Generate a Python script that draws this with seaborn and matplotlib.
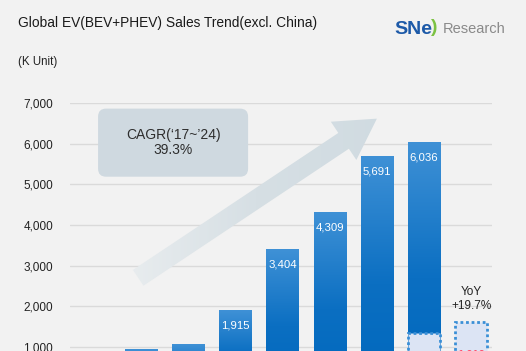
import numpy as np
import pandas as pd
import matplotlib
matplotlib.use("Agg")
import matplotlib.pyplot as plt
import matplotlib.patches as mpatches
from matplotlib.transforms import IdentityTransform
from matplotlib.colors import LinearSegmentedColormap
import seaborn as sns

# ---- data ----
categories = ["2017", "2018", "2019", "2020", "2021", "2022", "2023", "2024", "2025 1Q"]
annual_cats = ["2017", "2018", "2019", "2020", "2021", "2022", "2023", "2024"]
annual_vals = [593, 943, 1070, 1915, 3404, 4309, 5691, 6036]
labeled_cats = ["2020", "2021", "2022", "2023", "2024"]   # labels visible in the crop
q1_cats = ["2024", "2025 1Q"]
q1_vals = [1350, 1616]
yticks = [0, 1000, 2000, 3000, 4000, 5000, 6000, 7000]
title = "Global EV(BEV+PHEV) Sales Trend(excl. China)"
unit_label = "(K Unit)"
cagr_text = "CAGR(\u201817~\u201924)\n39.3%"
yoy_text = "YoY\n+19.7%"

sns.set_theme(style="white")
plt.rcParams["font.family"] = ["Liberation Sans", "DejaVu Sans"]

BG = "#f2f2f2"
W, H = 526, 351
fig = plt.figure(figsize=(W / 100, H / 100), dpi=100, facecolor=BG)
ax = fig.add_axes([70 / W, 1 - 387.6 / H, 422 / W, (387.6 - 103) / H])
ax.set_facecolor(BG)

df_a = pd.DataFrame({"cat": annual_cats, "val": annual_vals})
df_q = pd.DataFrame({"cat": q1_cats, "val": q1_vals})

sns.barplot(data=df_a, x="cat", y="val", order=categories, color="#1a78c8",
            width=0.68, ax=ax, zorder=2, saturation=1, edgecolor="none")
n_main = len(ax.patches)
main_patches = list(ax.patches)

sns.barplot(data=df_q, x="cat", y="val", order=categories, color="#dce4f4",
            width=0.68, ax=ax, zorder=4, saturation=1,
            edgecolor="#3a8fd6", linewidth=2.0, linestyle=(0, (1, 1)))
for p in ax.patches[n_main:]:
    p.set_facecolor("#dce4f4")
    p.set_edgecolor("#3a8fd6")

# gradient fill for main bars
cmap = LinearSegmentedColormap.from_list(
    "bar", [(0.0, "#3f91d6"), (0.55, "#0b6fc2"), (1.0, "#0068bd")])
grad = np.linspace(0, 1, 256).reshape(-1, 1)
for p in main_patches:
    x0, y0 = p.get_x(), p.get_y()
    w, h = p.get_width(), p.get_height()
    im = ax.imshow(grad, cmap=cmap, extent=[x0, x0 + w, y0, y0 + h],
                   aspect="auto", origin="upper", zorder=3, interpolation="bilinear")
    im.set_clip_path(p)

ax.set_xlim(-0.505, 8.44)
ax.set_ylim(0, 7000)

# value labels
for c, v in zip(annual_cats, annual_vals):
    if c not in labeled_cats:
        continue
    i = categories.index(c)
    ax.annotate(f"{v:,}", (i, v), xytext=(0, -11.2), textcoords="offset points",
                ha="center", va="center", color="white", fontsize=8.2, zorder=6)

i8 = categories.index("2025 1Q")
ax.annotate(f"{q1_vals[1]:,}", (i8, q1_vals[1]), xytext=(0, -23.5), textcoords="offset points",
            ha="center", va="center", color="#ff4f6e", fontsize=8, fontweight="bold", zorder=6)
ax.annotate(yoy_text, (i8, q1_vals[1]), xytext=(0, 16.5), textcoords="offset points",
            ha="center", va="center", color="#222222", fontsize=8.5, linespacing=1.15, zorder=6)

# grid / axes
ax.set_yticks(yticks)
ax.set_yticklabels([f"{t:,}" for t in yticks], fontsize=8.5, color="#222222")
ax.yaxis.grid(True, color="#dadada", linewidth=1.0, zorder=0)
ax.set_axisbelow(True)
ax.tick_params(axis="y", length=0, pad=12.2)
ax.set_xticks([])
ax.set_xlabel("")
ax.set_ylabel("")
for s in ax.spines.values():
    s.set_visible(False)

# trend arrow (display coords from data anchors), fading toward the tail
fig.canvas.draw()
tail_d, tip_d = (0.94, 2700), (6.0, 6615)
tail = ax.transData.transform(tail_d)
tip = ax.transData.transform(tip_d)
arrow = mpatches.FancyArrow(tail[0], tail[1], tip[0] - tail[0], tip[1] - tail[1],
                            width=19, head_width=46, head_length=40,
                            length_includes_head=True, transform=IdentityTransform(),
                            facecolor="none", edgecolor="none", linewidth=0, zorder=1.5)
ax.add_artist(arrow)
acmap = LinearSegmentedColormap.from_list("arr", ["#e9edef", "#d6dfe4", "#d0dbe1"])
agrad = np.linspace(0, 1, 256).reshape(1, -1)
aim = ax.imshow(agrad, cmap=acmap, extent=[tail_d[0] - 0.3, tip_d[0] + 0.2, 2000, 7000],
                aspect="auto", origin="lower", zorder=1.5, interpolation="bilinear")
aim.set_clip_path(arrow)

# CAGR box
b0 = ax.transData.transform((0.09, 5187))
b1 = ax.transData.transform((3.27, 6862))
box = mpatches.FancyBboxPatch((b0[0] + 8, b0[1] + 8), b1[0] - b0[0] - 16, b1[1] - b0[1] - 16,
                              boxstyle="round,pad=8", transform=IdentityTransform(),
                              facecolor="#cfd9e0", edgecolor="none", zorder=5)
ax.add_artist(box)
ax.text(1.68, 6030, cagr_text, ha="center", va="center", fontsize=10,
        color="#2e2e2e", linespacing=1.05, zorder=6)

ax.set_xlim(-0.505, 8.44)
ax.set_ylim(0, 7000)

# titles
fig.text(18 / W, 1 - 23 / H, title, ha="left", va="center", fontsize=9.9, color="#1a1a1a")
fig.text(18 / W, 1 - 62 / H, unit_label, ha="left", va="center", fontsize=8.3, color="#222222")

# logo
fig.text(394 / W, 1 - 29 / H, "SNe", ha="left", va="center", fontsize=14,
         fontweight="bold", color="#1d5aa8")
fig.text(431 / W, 1 - 27 / H, ")", ha="left", va="center", fontsize=14,
         fontweight="bold", color="#7cc242")
fig.text(443 / W, 1 - 29 / H, "Research", ha="left", va="center", fontsize=10.5,
         color="#8a8a8a")

fig.savefig("out.png", dpi=100, facecolor=BG)
